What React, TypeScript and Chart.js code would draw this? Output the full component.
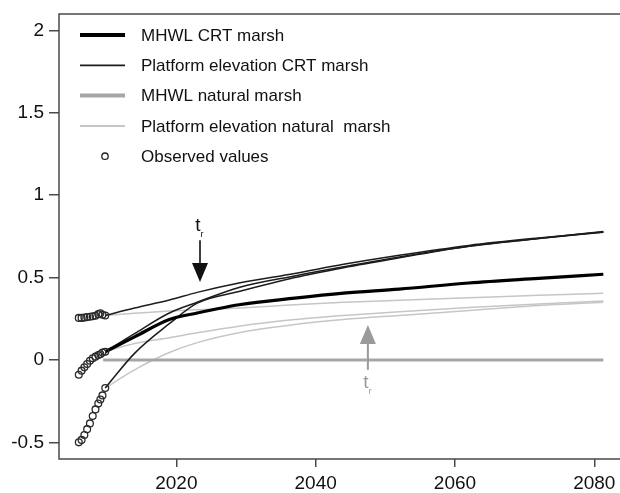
import React, { useEffect, useRef } from 'react';
import { Chart, registerables } from 'chart.js';

Chart.register(...registerables);

const FONT = '"Liberation Sans", Arial, Helvetica, sans-serif';

// ---- data ----
const xTicks = [2020, 2040, 2060, 2080];
const yTicks = [-0.5, 0, 0.5, 1, 1.5, 2];

const curveYears = [2009.8, 2014, 2019, 2023, 2029, 2037, 2044, 2052, 2062, 2072, 2081.3];

const mhwlCRT = [0.05, 0.14, 0.245, 0.285, 0.335, 0.375, 0.405, 0.43, 0.467, 0.495, 0.52];

const platCRTUpper = [0.27, 0.315, 0.364, 0.41, 0.467, 0.525, 0.58, 0.635, 0.695, 0.74, 0.776];
const platCRTMiddle = [0.05, 0.16, 0.285, 0.35, 0.44, 0.51, 0.565, 0.625, 0.69, 0.737, 0.775];
const platCRTLower = [-0.17, 0.04, 0.22, 0.345, 0.415, 0.5, 0.56, 0.62, 0.69, 0.737, 0.78];

const mhwlNatYears = [2009.5, 2081.3];
const mhwlNat = [0, 0];

const platNatUpper = [0.27, 0.283, 0.297, 0.305, 0.315, 0.335, 0.35, 0.362, 0.377, 0.392, 0.405];
const platNatMiddle = [0.05, 0.1, 0.135, 0.165, 0.205, 0.245, 0.27, 0.293, 0.318, 0.34, 0.357];
const platNatLower = [-0.17, -0.06, 0.045, 0.105, 0.165, 0.215, 0.245, 0.27, 0.3, 0.33, 0.35];

const obsYears = [2006.0, 2006.4, 2006.8, 2007.2, 2007.6, 2008.0, 2008.4, 2008.8, 2009.1, 2009.4, 2009.8];
const obsUpper = [0.255, 0.255, 0.257, 0.26, 0.262, 0.265, 0.268, 0.278, 0.283, 0.274, 0.27];
const obsMiddle = [-0.09, -0.065, -0.045, -0.025, -0.005, 0.01, 0.02, 0.03, 0.035, 0.045, 0.05];
const obsLower = [-0.5, -0.485, -0.455, -0.42, -0.385, -0.34, -0.3, -0.265, -0.24, -0.215, -0.17];

const legendLabels = [
  'MHWL CRT marsh',
  'Platform elevation CRT marsh',
  'MHWL natural marsh',
  'Platform elevation natural  marsh',
  'Observed values',
];

// t_r markers: [year, stem start, arrow tip, label y]
const trBlack = [2023.4, 0.727, 0.473, 0.812];
const trGray = [2047.5, -0.06, 0.212, -0.14];

const BLACK_THICK = '#000000';
const BLACK_THIN = '#1c1c1c';
const GRAY_THICK = '#a6a6a6';
const GRAY_THIN = '#c6c6c6';
const FRAME = '#4a4a4a';

const pts = (xs: number[], ys: number[]) => xs.map((x, i) => ({ x, y: ys[i] }));

const lineDs = (label: string, xs: number[], ys: number[], color: string, width: number) => ({
  label,
  data: pts(xs, ys),
  borderColor: color,
  backgroundColor: color,
  borderWidth: width,
  pointRadius: 0,
  showLine: true,
  fill: false,
  cubicInterpolationMode: 'monotone' as const,
});

const framePlugin = {
  id: 'frame',
  beforeDatasetsDraw(chart: any) {
    const { ctx, chartArea: a } = chart;
    ctx.save();
    ctx.strokeStyle = FRAME;
    ctx.lineWidth = 1.5;
    ctx.beginPath();
    ctx.moveTo(chart.width, a.top);
    ctx.lineTo(a.left, a.top);
    ctx.lineTo(a.left, a.bottom);
    ctx.lineTo(chart.width, a.bottom);
    ctx.stroke();
    ctx.restore();
  },
};

const legendPlugin = {
  id: 'customLegend',
  afterDraw(chart: any) {
    const { ctx } = chart;
    const styles = [
      { color: BLACK_THICK, width: 4 },
      { color: BLACK_THIN, width: 1.8 },
      { color: GRAY_THICK, width: 4 },
      { color: GRAY_THIN, width: 2 },
      { point: true },
    ] as any[];
    const x0 = 80, x1 = 125, tx = 141, y0 = 35, dy = 30.3;
    ctx.save();
    ctx.font = `17px ${FONT}`;
    ctx.textBaseline = 'middle';
    ctx.fillStyle = '#111';
    legendLabels.forEach((lab, i) => {
      const y = y0 + i * dy;
      const s = styles[i];
      if (s.point) {
        ctx.beginPath();
        ctx.arc(105, y, 3.2, 0, Math.PI * 2);
        ctx.strokeStyle = '#222';
        ctx.lineWidth = 1.3;
        ctx.stroke();
      } else {
        ctx.beginPath();
        ctx.moveTo(x0, y);
        ctx.lineTo(x1, y);
        ctx.strokeStyle = s.color;
        ctx.lineWidth = s.width;
        ctx.stroke();
      }
      ctx.fillText(lab, tx, y + 1);
    });
    ctx.restore();
  },
};

const arrowPlugin = {
  id: 'trArrows',
  afterDatasetsDraw(chart: any) {
    const { ctx } = chart;
    const xs = chart.scales.x;
    const ys = chart.scales.y;
    const draw = (m: number[], color: string, stemW: number) => {
      const x = xs.getPixelForValue(m[0]);
      const yStart = ys.getPixelForValue(m[1]);
      const yTip = ys.getPixelForValue(m[2]);
      const dir = yTip > yStart ? 1 : -1;
      const head = 19;
      const half = 8;
      ctx.save();
      ctx.strokeStyle = color;
      ctx.fillStyle = color;
      ctx.lineWidth = stemW;
      ctx.beginPath();
      ctx.moveTo(x, yStart);
      ctx.lineTo(x, yTip - dir * head);
      ctx.stroke();
      ctx.beginPath();
      ctx.moveTo(x, yTip);
      ctx.lineTo(x - half, yTip - dir * head);
      ctx.lineTo(x + half, yTip - dir * head);
      ctx.closePath();
      ctx.fill();
      const ly = ys.getPixelForValue(m[3]);
      ctx.font = `19px ${FONT}`;
      ctx.textAlign = 'center';
      ctx.textBaseline = 'middle';
      ctx.fillText('t', x - 2, ly);
      ctx.font = `9px ${FONT}`;
      ctx.fillText('r', x + 2, ly + 8);
      ctx.restore();
    };
    draw(trBlack, '#111111', 1.6);
    draw(trGray, '#9a9a9a', 2);
  },
};

export default function App() {
  const ref = useRef<HTMLCanvasElement>(null);

  useEffect(() => {
    const canvas = ref.current;
    if (!canvas) return;
    const obsPts = [
      ...pts(obsYears, obsUpper),
      ...pts(obsYears, obsMiddle),
      ...pts(obsYears, obsLower),
    ];
    const chart = new Chart(canvas, {
      type: 'scatter',
      data: {
        datasets: [
          {
            label: legendLabels[4],
            data: obsPts,
            showLine: false,
            pointRadius: 3.4,
            pointBorderWidth: 1.3,
            pointBorderColor: '#2a2a2a',
            pointBackgroundColor: 'rgba(255,255,255,0)',
            pointStyle: 'circle',
          } as any,
          lineDs(legendLabels[0], curveYears, mhwlCRT, BLACK_THICK, 3.2),
          lineDs(legendLabels[1], curveYears, platCRTUpper, BLACK_THIN, 1.5),
          lineDs(legendLabels[1], curveYears, platCRTMiddle, BLACK_THIN, 1.5),
          lineDs(legendLabels[1], curveYears, platCRTLower, BLACK_THIN, 1.5),
          lineDs(legendLabels[2], mhwlNatYears, mhwlNat, GRAY_THICK, 3),
          lineDs(legendLabels[3], curveYears, platNatUpper, GRAY_THIN, 1.5),
          lineDs(legendLabels[3], curveYears, platNatMiddle, GRAY_THIN, 1.5),
          lineDs(legendLabels[3], curveYears, platNatLower, GRAY_THIN, 1.5),
        ],
      },
      options: {
        responsive: false,
        animation: false,
        devicePixelRatio: 1,
        layout: { autoPadding: false, padding: { top: 14, left: 0, right: 0, bottom: 0 } },
        plugins: {
          legend: { display: false },
          tooltip: { enabled: false },
        },
        scales: {
          x: {
            type: 'linear',
            min: 2003.16,
            max: 2083.69,
            afterFit: (s: any) => {
              s.height = 34;
              s.paddingLeft = 0;
              s.paddingRight = 0;
            },
            afterBuildTicks: (s: any) => { s.ticks = xTicks.map((v) => ({ value: v })); },
            border: { display: false },
            grid: {
              drawOnChartArea: false,
              drawTicks: true,
              tickLength: 8,
              color: FRAME,
              lineWidth: 1.5,
            },
            ticks: {
              font: { family: FONT, size: 19 },
              color: '#111',
              padding: 5,
              maxRotation: 0,
              callback: (v: any) => String(v),
            },
          },
          y: {
            type: 'linear',
            min: -0.601,
            max: 2.099,
            afterFit: (s: any) => {
              s.width = 59;
              s.paddingTop = 0;
              s.paddingBottom = 0;
            },
            afterBuildTicks: (s: any) => { s.ticks = yTicks.map((v) => ({ value: v })); },
            border: { display: false },
            grid: {
              drawOnChartArea: false,
              drawTicks: true,
              tickLength: 10,
              color: FRAME,
              lineWidth: 1.5,
            },
            ticks: {
              font: { family: FONT, size: 19 },
              color: '#111',
              padding: 5,
              callback: (v: any) => String(v),
            },
          },
        },
      },
      plugins: [framePlugin, arrowPlugin, legendPlugin],
    } as any);
    return () => chart.destroy();
  }, []);

  return (
    <div style={{ position: 'absolute', left: 0, top: 0, width: 620, height: 493, background: '#fff' }}>
      <canvas ref={ref} width={620} height={493} style={{ display: 'block', width: 620, height: 493 }} />
    </div>
  );
}
